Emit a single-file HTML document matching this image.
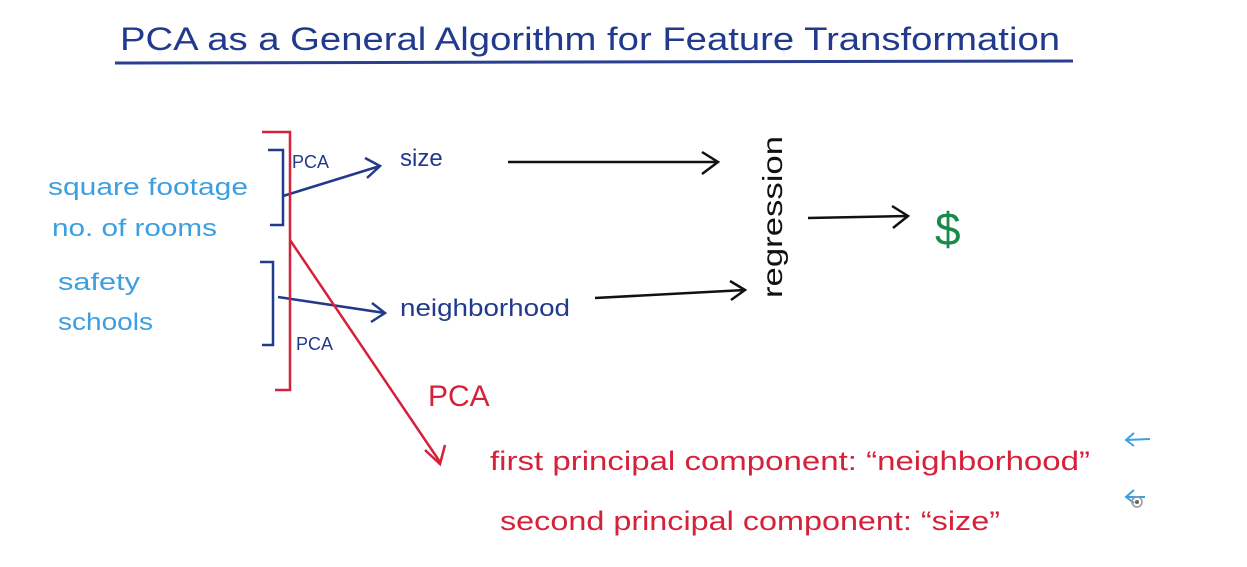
<!DOCTYPE html>
<html><head><style>body{margin:0;background:#fff}svg{display:block}</style></head><body>
<svg width="1247" height="567" viewBox="0 0 1247 567" xmlns="http://www.w3.org/2000/svg" font-family="'Liberation Sans', sans-serif">
<rect width="1247" height="567" fill="#fff"/>
<text x="120" y="50" font-size="32" fill="#213a8c" textLength="940" lengthAdjust="spacingAndGlyphs">PCA as a General Algorithm for Feature Transformation</text>
<line x1="115" y1="63" x2="1073" y2="61" stroke="#2a3f8f" stroke-width="3"/>
<g fill="#3d9fe0" font-size="24">
<text x="48" y="195" textLength="200" lengthAdjust="spacingAndGlyphs">square footage</text>
<text x="52" y="236" textLength="165" lengthAdjust="spacingAndGlyphs">no. of rooms</text>
<text x="58" y="290" textLength="82" lengthAdjust="spacingAndGlyphs">safety</text>
<text x="58" y="330" textLength="95" lengthAdjust="spacingAndGlyphs">schools</text>
</g>
<g stroke="#213a8c" stroke-width="2.5" fill="none">
<polyline points="268,150 283,150 283,225 270,225"/>
<polyline points="260,262 273,262 273,345 262,345"/>
<line x1="283" y1="196" x2="380" y2="166"/><polyline points="365,158 380,166 367,178"/>
<line x1="278" y1="297" x2="385" y2="313"/><polyline points="372,303 385,313 371,322"/>
</g>
<g fill="#213a8c">
<text x="292" y="168" font-size="18">PCA</text>
<text x="296" y="350" font-size="18">PCA</text>
<text x="400" y="166" font-size="24">size</text>
<text x="400" y="316" font-size="24" textLength="170" lengthAdjust="spacingAndGlyphs">neighborhood</text>
</g>
<g stroke="#111" stroke-width="2.5" fill="none">
<line x1="508" y1="162" x2="718" y2="162"/><polyline points="702,152 718,162 702,174"/>
<line x1="595" y1="298" x2="745" y2="290"/><polyline points="730,281 745,290 731,300"/>
<line x1="808" y1="218" x2="908" y2="216"/><polyline points="892,206 908,216 893,228"/>
</g>
<text transform="translate(782,298) rotate(-90)" font-size="28" fill="#111" textLength="162" lengthAdjust="spacingAndGlyphs">regression</text>
<text x="935" y="245" font-size="46" fill="#1a8a4a">$</text>
<g stroke="#d6213a" stroke-width="2.5" fill="none">
<polyline points="262,132 290,132 290,390 275,390"/>
<line x1="290" y1="240" x2="440" y2="462"/><polyline points="425,450 440,464 445,445"/>
</g>
<g fill="#d6213a">
<text x="428" y="406" font-size="30">PCA</text>
<text x="490" y="470" font-size="27" textLength="600" lengthAdjust="spacingAndGlyphs">first principal component: “neighborhood”</text>
<text x="500" y="530" font-size="27" textLength="500" lengthAdjust="spacingAndGlyphs">second principal component: “size”</text>
</g>
<g stroke="#3d9fe0" stroke-width="2" fill="none">
<line x1="1126" y1="440" x2="1150" y2="439"/><polyline points="1134,433 1126,440 1134,446"/>
<line x1="1126" y1="497" x2="1145" y2="497"/><polyline points="1134,490 1126,497 1134,503"/>
</g>
<circle cx="1137" cy="502" r="5" fill="none" stroke="#999" stroke-width="1.5"/><circle cx="1137" cy="502" r="2" fill="#666"/>
</svg>
</body></html>
